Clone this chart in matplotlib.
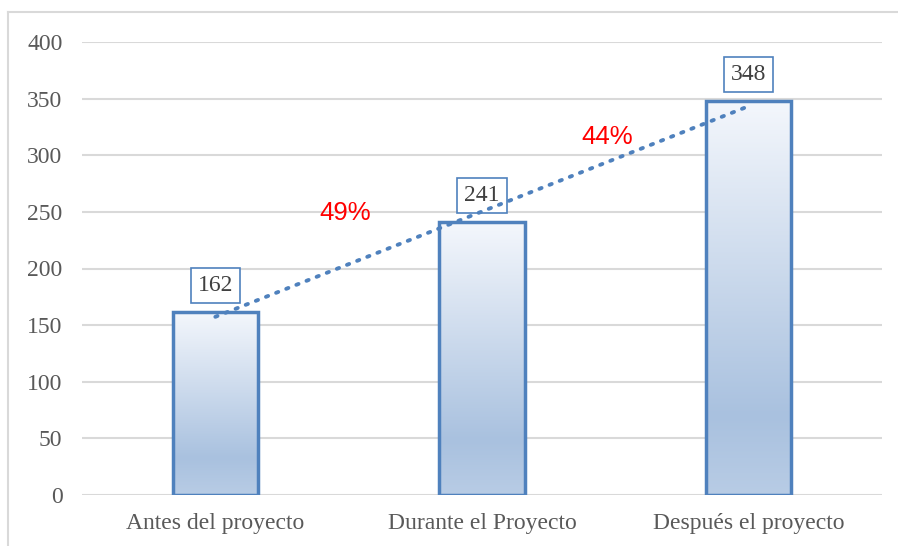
import matplotlib
matplotlib.use("Agg")
import matplotlib.pyplot as plt
import numpy as np
from matplotlib.colors import LinearSegmentedColormap
from matplotlib.patches import Rectangle

categories = ["Antes del proyecto", "Durante el Proyecto", "Después el proyecto"]
values = [162, 241, 348]
pct_labels = ["49%", "44%"]
yticks = [0, 50, 100, 150, 200, 250, 300, 350, 400]

W, H = 898, 546
fig = plt.figure(figsize=(W / 100, H / 100), dpi=100)
fig.patch.set_facecolor("white")

# outer chart border (top and left visible)
fig.add_artist(plt.Line2D([8 / W, 1.0], [1 - 12 / H, 1 - 12 / H], color="#d9d9d9", lw=1.5, transform=fig.transFigure))
fig.add_artist(plt.Line2D([8 / W, 8 / W], [0, 1 - 12 / H], color="#d9d9d9", lw=1.5, transform=fig.transFigure))

left, right = 82 / W, 882 / W
bottom, top = 1 - 495 / H, 1 - 42 / H
ax = fig.add_axes([left, bottom, right - left, top - bottom])
ax.set_xlim(-0.5, 2.5)
ax.set_ylim(0, 400)
ax.set_yticks(yticks)
ax.set_xticks(range(len(categories)))
ax.set_xticklabels(categories)
for s in ax.spines.values():
    s.set_visible(False)
ax.grid(axis="y", color="#d9d9d9", lw=1.5, zorder=0)
ax.set_axisbelow(True)
ax.tick_params(length=0, labelsize=17, colors="#595959")
ax.tick_params(axis="y", pad=14)
ax.tick_params(axis="x", pad=13)
for t in ax.get_yticklabels() + ax.get_xticklabels():
    t.set_fontfamily("Liberation Serif")

cmap = LinearSegmentedColormap.from_list("g", [(0, "#b8cce5"), (0.2, "#a9c1df"), (1.0, "#f4f7fc")])
grad = np.linspace(0, 1, 256).reshape(-1, 1)
bw = 0.32
bars = ax.bar(range(len(values)), values, width=bw, color="none", edgecolor="#4f81bd", lw=2.5, zorder=3)
for b in bars:
    x0, w, h = b.get_x(), b.get_width(), b.get_height()
    im = ax.imshow(grad, cmap=cmap, extent=[x0, x0 + w, 0, h], aspect="auto", zorder=2, origin="lower")
    im.set_clip_path(Rectangle((x0, 0), w, h, transform=ax.transData))
ax.set_xlim(-0.5, 2.5)
ax.set_ylim(0, 400)

# data labels
for i, v in enumerate(values):
    ax.annotate(str(v), (i, v), xytext=(0, 19), textcoords="offset points", ha="center", va="center",
                fontsize=17, family="Liberation Serif", color="#404040", zorder=5,
                bbox=dict(boxstyle="square,pad=0.3", fc="white", ec="#4f81bd", lw=1.2))

# linear trendline
xs = np.arange(len(values))
m, c = np.polyfit(xs, values, 1)
ax.plot(xs, m * xs + c, linestyle=(0, (0.6, 2.2)), color="#4f81bd", lw=2.8, dash_capstyle="round", zorder=6)

# percent growth labels
ax.text(0.486, 249, pct_labels[0], color="red", fontsize=18.5, family="Liberation Sans", ha="center", va="center", zorder=7)
ax.text(1.469, 316, pct_labels[1], color="red", fontsize=18.5, family="Liberation Sans", ha="center", va="center", zorder=7)

fig.savefig("out.png", dpi=100, facecolor="white")
